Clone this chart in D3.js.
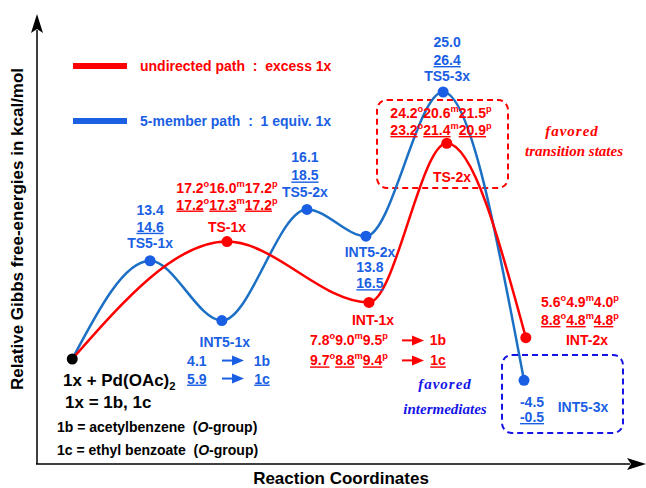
<!DOCTYPE html>
<html><head><meta charset="utf-8">
<script src="https://cdn.jsdelivr.net/npm/d3@7"></script>
<style>
html,body{margin:0;padding:0;background:#fff;}
svg{display:block;font-family:"Liberation Sans",Arial,sans-serif;font-weight:bold;}
</style></head>
<body>
<svg id="c" width="646" height="488"></svg>
<script>
// ---- data ----
const siteLabels = ["o", "m", "p"];
// 5-member path (blue): names, energies for 1b and 1c, schematic coordinate and level
const blueNames = ["1x + Pd(OAc)2", "TS5-1x", "INT5-1x", "TS5-2x", "INT5-2x", "TS5-3x", "INT5-3x"];
const blue1b = [0, 13.4, 4.1, 16.1, 13.8, 25.0, -4.5];
const blue1c = [0, 14.6, 5.9, 18.5, 16.5, 26.4, -0.5];
const blueCoord = [5.8, 18.6, 30.4, 44.4, 54.1, 66.8, 80.1];
const blueLevel = [0, 9.2, 3.6, 14.0, 11.5, 25.0, -2.0];
// undirected path (red)
const redNames = ["1x + Pd(OAc)2", "TS-1x", "INT-1x", "TS-2x", "INT-2x"];
const redCoord = [5.8, 31.25, 54.6, 67.4, 80.4];
const redLevel = [0, 11.0, 5.3, 20.2, 2.0];
const ts1x_1b = [17.2, 16.0, 17.2], ts1x_1c = [17.2, 17.3, 17.2];
const int1x_1b = [7.8, 9.0, 9.5], int1x_1c = [9.7, 8.8, 9.4];
const ts2x_1b = [24.2, 20.6, 21.5], ts2x_1c = [23.2, 21.4, 20.9];
const int2x_1b = [5.6, 4.9, 4.0], int2x_1c = [8.8, 4.8, 4.8];

const RED = "#ff0000", BLUE = "#1a5fe3", BLUELINE = "#1b6fc4", BOXBLUE = "#1414e6";

const svg = d3.select("#c");
const x = d3.scaleLinear().domain([0, 100]).range([37, 645]);
const y = d3.scaleLinear().domain([-10, 30]).range([465.8, 38.6]);

// axes
svg.append("line").attr("x1", 37).attr("y1", 464).attr("x2", 37).attr("y2", 30).attr("stroke", "#000").attr("stroke-width", 1.5);
svg.append("path").attr("d", "M31,33 L37,14 L43,33 L37,29 Z").attr("fill", "#000");
svg.append("line").attr("x1", 36).attr("y1", 464).attr("x2", 630).attr("y2", 464).attr("stroke", "#000").attr("stroke-width", 1.5);
svg.append("path").attr("d", "M627,458 L646,464 L627,470 L631,464 Z").attr("fill", "#000");

svg.append("text").attr("transform", "translate(23,229) rotate(-90)").attr("text-anchor", "middle")
  .attr("font-size", 17).attr("fill", "#000").text("Relative Gibbs free-energies in kcal/mol");
svg.append("text").attr("x", 341).attr("y", 484).attr("text-anchor", "middle")
  .attr("font-size", 17).attr("fill", "#000").text("Reaction Coordinates");

// legend
svg.append("line").attr("x1", 73).attr("x2", 127).attr("y1", 66).attr("y2", 66).attr("stroke", RED).attr("stroke-width", 6);
svg.append("text").attr("x", 140).attr("y", 71).attr("font-size", 14).attr("fill", RED).attr("xml:space", "preserve").text("undirected path  :  excess 1x");
svg.append("line").attr("x1", 73).attr("x2", 127).attr("y1", 121).attr("y2", 121).attr("stroke", "#1a60e0").attr("stroke-width", 6);
svg.append("text").attr("x", 140).attr("y", 126).attr("font-size", 14).attr("fill", BLUE).attr("xml:space", "preserve").text("5-member path  :  1 equiv. 1x");

// dashed boxes
svg.append("rect").attr("x", 377).attr("y", 100).attr("width", 131).attr("height", 88).attr("rx", 10)
  .attr("fill", "none").attr("stroke", RED).attr("stroke-width", 2).attr("stroke-dasharray", "6,4");
svg.append("rect").attr("x", 502).attr("y", 355).attr("width", 121).attr("height", 78).attr("rx", 10)
  .attr("fill", "none").attr("stroke", BOXBLUE).attr("stroke-width", 2).attr("stroke-dasharray", "6,4");

// curves
const line = d3.line().curve(d3.curveMonotoneX);
const bluePts = blueCoord.map((c, i) => [x(c), y(blueLevel[i])]);
const redPts = redCoord.map((c, i) => [x(c), y(redLevel[i])]);
svg.append("path").attr("d", line(bluePts)).attr("fill", "none").attr("stroke", BLUELINE).attr("stroke-width", 2.5);
svg.append("path").attr("d", line(redPts)).attr("fill", "none").attr("stroke", RED).attr("stroke-width", 2.5);
svg.selectAll(".bd").data(bluePts.slice(1)).enter().append("circle")
  .attr("cx", d => d[0]).attr("cy", d => d[1]).attr("r", 5.5).attr("fill", BLUE);
svg.selectAll(".rd").data(redPts.slice(1)).enter().append("circle")
  .attr("cx", d => d[0]).attr("cy", d => d[1]).attr("r", 5.5).attr("fill", RED);
svg.append("circle").attr("cx", bluePts[0][0]).attr("cy", bluePts[0][1]).attr("r", 5.5).attr("fill", "#000");

// rich text helper: parts = [{t, sup, sub, u}]
function rich(px, py, parts, color, size, anchor) {
  const t = svg.append("text").attr("x", px).attr("y", py).attr("text-anchor", anchor || "middle")
    .attr("font-size", size || 14).attr("fill", color).attr("xml:space", "preserve");
  let shift = 0;
  parts.forEach(p => {
    const s = t.append("tspan").text(p.t);
    let want = p.sup ? -6 : (p.sub ? 4 : 0);
    s.attr("dy", want - shift); shift = want;
    if (p.sup || p.sub) s.attr("font-size", (size || 14) * 0.66);
    if (p.u) s.style("text-decoration", "underline");
    if (p.i) s.attr("font-style", "italic");
  });
  return t;
}
function omp(vals, under) {
  const out = [];
  vals.forEach((v, i) => { out.push({t: v.toFixed(1), u: under}); out.push({t: siteLabels[i], sup: true}); });
  return out;
}
function arrow(x0, x1, yy, color) {
  svg.append("line").attr("x1", x0).attr("x2", x1 - 8).attr("y1", yy).attr("y2", yy).attr("stroke", color).attr("stroke-width", 2);
  svg.append("path").attr("d", `M${x1 - 12},${yy - 5} L${x1},${yy} L${x1 - 12},${yy + 5} Z`).attr("fill", color);
}

// blue labels
const bx = i => bluePts[i][0], by = i => bluePts[i][1];
// TS5-1x
rich(bx(1), by(1) - 46, [{t: blue1b[1].toFixed(1)}], BLUE);
rich(bx(1), by(1) - 29, [{t: blue1c[1].toFixed(1), u: true}], BLUE);
rich(bx(1), by(1) - 13, [{t: blueNames[1]}], BLUE);
// INT5-1x
rich(bx(2) + 3, by(2) + 26, [{t: blueNames[2]}], BLUE);
rich(bx(2) - 25, by(2) + 45, [{t: blue1b[2].toFixed(1)}], BLUE);
arrow(222, 244, by(2) + 40, BLUE);
rich(262, by(2) + 45, [{t: "1b"}], BLUE);
rich(bx(2) - 25, by(2) + 63, [{t: blue1c[2].toFixed(1), u: true}], BLUE);
arrow(222, 244, by(2) + 58, BLUE);
rich(262, by(2) + 63, [{t: "1c", u: true}], BLUE);
// TS5-2x
rich(bx(3) - 2, by(3) - 47, [{t: blue1b[3].toFixed(1)}], BLUE);
rich(bx(3) - 2, by(3) - 29, [{t: blue1c[3].toFixed(1), u: true}], BLUE);
rich(bx(3) - 2, by(3) - 12, [{t: blueNames[3]}], BLUE);
// INT5-2x
rich(bx(4) + 4, by(4) + 21, [{t: blueNames[4]}], BLUE);
rich(bx(4) + 4, by(4) + 36, [{t: blue1b[4].toFixed(1)}], BLUE);
rich(bx(4) + 4, by(4) + 52, [{t: blue1c[4].toFixed(1), u: true}], BLUE);
// TS5-3x
rich(bx(5) + 4, 47, [{t: blue1b[5].toFixed(1)}], BLUE);
rich(bx(5) + 4, 65, [{t: blue1c[5].toFixed(1), u: true}], BLUE);
rich(bx(5) + 4, 81, [{t: blueNames[5]}], BLUE);
// INT5-3x
rich(532, 407, [{t: blue1b[6].toFixed(1)}], BLUE);
rich(532, 422, [{t: blue1c[6].toFixed(1), u: true}], BLUE);
rich(583, 412, [{t: blueNames[6]}], BLUE);

// red labels
const rx = i => redPts[i][0], ry = i => redPts[i][1];
rich(rx(1), ry(1) - 49, omp(ts1x_1b, false), RED);
rich(rx(1), ry(1) - 32, omp(ts1x_1c, true), RED);
rich(rx(1), ry(1) - 10, [{t: redNames[1]}], RED);
// INT-1x
rich(rx(2) + 4, ry(2) + 23, [{t: redNames[2]}], RED);
rich(310, ry(2) + 43, omp(int1x_1b, false), RED, 14, "start");
arrow(402, 424, ry(2) + 38, RED);
rich(438, ry(2) + 43, [{t: "1b"}], RED);
rich(310, ry(2) + 63, omp(int1x_1c, true), RED, 14, "start");
arrow(402, 424, ry(2) + 58, RED);
rich(438, ry(2) + 63, [{t: "1c", u: true}], RED);
// TS-2x
rich(441, 118, omp(ts2x_1b, false), RED);
rich(441, 135, omp(ts2x_1c, true), RED);
rich(452, 182, [{t: redNames[3]}], RED);
// INT-2x
rich(580, 307, omp(int2x_1b, false), RED);
rich(580, 325, omp(int2x_1c, true), RED);
rich(587, 345, [{t: redNames[4]}], RED);

// italic notes
const serif = "'Liberation Serif','Times New Roman',serif";
function note(px, py, txt, color, ls) {
  svg.append("text").attr("x", px).attr("y", py).attr("text-anchor", "middle").attr("font-family", serif)
    .attr("font-style", "italic").attr("font-weight", "bold").attr("font-size", 15).attr("fill", color)
    .attr("letter-spacing", ls).text(txt);
}
note(572, 136, "favored", RED, 1);
note(574, 156, "transition states", RED, 0);
note(445, 389, "favored", BOXBLUE, 1);
note(445, 414, "intermediates", BOXBLUE, 0);

// black reactant texts
rich(63, 386, [{t: "1x + Pd(OAc)"}, {t: "2", sub: true}], "#000", 17, "start");
rich(65, 408, [{t: "1x = 1b, 1c"}], "#000", 17, "start");
rich(57, 432, [{t: "1b = acetylbenzene  ("}, {t: "O", i: true}, {t: "-group)"}], "#000", 14, "start");
rich(57, 455, [{t: "1c = ethyl benzoate  ("}, {t: "O", i: true}, {t: "-group)"}], "#000", 14, "start");
</script>
</body></html>
